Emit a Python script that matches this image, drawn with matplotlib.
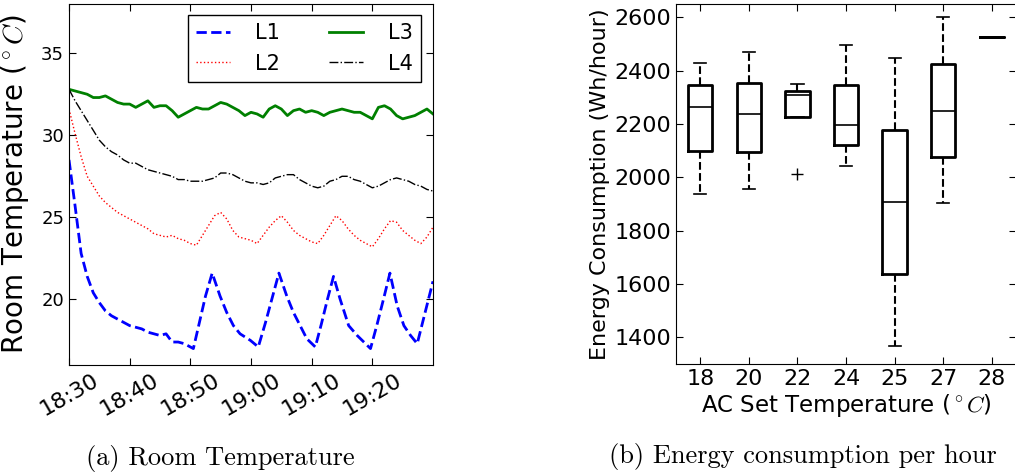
import datetime as dt
import matplotlib
matplotlib.use('Agg')
import matplotlib.pyplot as plt
import matplotlib.dates as mdates

plt.rcParams['mathtext.fontset'] = 'cm'

# ---- room temperature readings (minutes after 18:30, deg C) ----
l1_min = [0, 1, 2, 3, 4, 5, 6, 7, 8, 9, 10, 11, 12, 13, 14, 15, 16, 17, 18, 19, 20, 20.5,
          21.5, 22.5, 23.6, 24.9, 26, 27.1, 28.2, 29.9, 31.2,
          32.4, 33.5, 34.6, 35.9, 37, 38.1, 39.2, 40.6,
          41.6, 42.6, 43.6, 44.7, 46.1, 47.5, 49.7,
          50.8, 51.9, 52.9, 54.1, 55.2, 56.3, 57.4, 58.7, 60]
l1_val = [28.5, 25.7, 22.8, 21.4, 20.4, 19.8, 19.3, 19.0, 18.8, 18.6, 18.4, 18.3, 18.2, 18.0,
          17.9, 17.8, 17.9, 17.4, 17.4, 17.3, 17.1, 17.0,
          18.6, 20.2, 21.6, 20.2, 19.2, 18.4, 17.9, 17.5, 17.1,
          18.6, 20.1, 21.6, 20.2, 19.2, 18.4, 17.6, 17.1,
          18.5, 20.0, 21.4, 20.0, 18.4, 17.8, 17.0,
          18.5, 20.1, 21.6, 19.6, 18.4, 17.8, 17.3, 19.2, 21.1]

minutes = list(range(61))
l2_val = [31.6, 30.1, 28.7, 27.5, 26.9, 26.3, 25.9, 25.6, 25.3, 25.1, 24.9, 24.7, 24.5, 24.3,
          24.0, 23.9, 23.8, 23.9, 23.7, 23.6, 23.4, 23.3, 23.9, 24.5, 25.1, 25.3, 24.9, 24.2,
          23.8, 23.7, 23.6, 23.4, 23.9, 24.4, 24.8, 25.1, 24.7, 24.2, 23.9, 23.7, 23.5, 23.4,
          23.9, 24.5, 25.1, 24.8, 24.3, 23.9, 23.6, 23.4, 23.2, 23.7, 24.3, 24.8, 24.7, 24.2,
          23.9, 23.6, 23.4, 23.8, 24.4]
l3_val = [32.8, 32.7, 32.6, 32.5, 32.3, 32.3, 32.4, 32.2, 32.0, 31.9, 31.9, 31.7, 31.9, 32.1,
          31.7, 31.8, 31.8, 31.5, 31.1, 31.3, 31.5, 31.7, 31.6, 31.6, 31.8, 32.0, 31.9, 31.7,
          31.5, 31.2, 31.4, 31.3, 31.1, 31.6, 31.8, 31.6, 31.2, 31.5, 31.6, 31.4, 31.5, 31.4,
          31.2, 31.4, 31.5, 31.6, 31.5, 31.4, 31.4, 31.2, 31.0, 31.7, 31.8, 31.6, 31.2, 31.0,
          31.1, 31.2, 31.4, 31.6, 31.3]
l4_val = [32.8, 32.1, 31.5, 30.9, 30.3, 29.7, 29.3, 29.0, 28.8, 28.5, 28.3, 28.3, 28.1, 27.9,
          27.8, 27.7, 27.6, 27.5, 27.3, 27.3, 27.2, 27.2, 27.2, 27.3, 27.4, 27.7, 27.7, 27.6,
          27.4, 27.2, 27.1, 27.1, 27.0, 27.1, 27.4, 27.5, 27.6, 27.6, 27.3, 27.1, 26.9, 26.8,
          26.9, 27.2, 27.3, 27.5, 27.5, 27.3, 27.2, 27.0, 26.8, 26.9, 27.1, 27.3, 27.4, 27.3,
          27.2, 27.0, 26.9, 26.7, 26.6]

# ---- energy consumption box statistics (Wh/hour) ----
set_temps = ['18', '20', '22', '24', '25', '27', '28']
whis_lo = [1938, 1955, 2227, 2044, 1369, 1902, 2525]
q1 = [2099, 2094, 2227, 2120, 1639, 2075, 2525]
median = [2262, 2236, 2307, 2198, 1909, 2249, 2525]
q3 = [2345, 2355, 2324, 2345, 2178, 2425, 2525]
whis_hi = [2430, 2471, 2351, 2496, 2448, 2600, 2525]
fliers = [[], [], [2013], [], [], [], []]

start = dt.datetime(2016, 1, 1, 18, 30)
def to_time(ms):
    return [start + dt.timedelta(minutes=m) for m in ms]

fig = plt.figure(figsize=(10.15, 4.76), dpi=100)
ax1 = fig.add_axes([69 / 1015, 1 - 365 / 476, 364 / 1015, 361 / 476])
ax2 = fig.add_axes([676 / 1015, 1 - 364 / 476, 340 / 1015, 360 / 476])

ax1.plot(to_time(l1_min), l1_val, '--', color='blue', lw=2, label='L1')
ax1.plot(to_time(minutes), l2_val, ':', color='red', lw=1, label='L2')
ax1.plot(to_time(minutes), l3_val, '-', color='green', lw=2, label='L3')
ax1.plot(to_time(minutes), l4_val, '-.', color='black', lw=1, label='L4')

ax1.set_xlim(start, start + dt.timedelta(minutes=60))
ax1.set_ylim(16, 38)
ax1.set_yticks([20, 25, 30, 35])
ax1.xaxis.set_major_formatter(mdates.DateFormatter('%H:%M'))
ticks1 = [start + dt.timedelta(minutes=m) for m in range(0, 51, 10)]
ax1.set_xticks(ticks1)
ax1.tick_params(direction='in', top=True, right=True, length=5)
ax1.tick_params(axis='x', labelsize=16)
ax1.tick_params(axis='y', labelsize=13)
for lab in ax1.get_xticklabels():
    lab.set_rotation(30)
    lab.set_ha('center')
ax1.set_ylabel(r'Room Temperature ($^\circ C$)', fontsize=20, labelpad=7)
leg = ax1.legend(ncol=2, loc='upper right', bbox_to_anchor=(0.967, 0.97), borderaxespad=0,
                 fontsize=15, fancybox=False, edgecolor='black', framealpha=1,
                 handlelength=1.6, handletextpad=1.2, columnspacing=2.4, labelspacing=0.5)
leg.get_frame().set_linewidth(1)

stats = []
for i, name in enumerate(set_temps):
    stats.append({'label': name, 'whislo': whis_lo[i], 'q1': q1[i], 'med': median[i],
                  'q3': q3[i], 'whishi': whis_hi[i], 'fliers': fliers[i]})
ax2.bxp(stats, widths=0.5,
        boxprops=dict(color='black', lw=2),
        medianprops=dict(color='black', lw=1.2),
        whiskerprops=dict(color='black', lw=1.5, ls='--'),
        capprops=dict(color='black', lw=1.2),
        flierprops=dict(marker='+', markeredgecolor='black', markersize=9))
ax2.set_xlim(0.5, 7.5)
ax2.set_ylim(1300, 2650)
ax2.set_yticks([1400, 1600, 1800, 2000, 2200, 2400, 2600])
ax2.tick_params(direction='in', top=True, right=True, labelsize=16, length=5)
ax2.set_xlabel(r'AC Set Temperature ($^\circ C$)', fontsize=16.5, labelpad=2)
ax2.set_ylabel('Energy Consumption (Wh/hour)', fontsize=16, labelpad=3)

fig.text(220 / 1015, 1 - 458 / 476, '(a) Room Temperature', family='cmr10',
         fontsize=19, ha='center', va='center')
fig.text(803 / 1015, 1 - 456 / 476, '(b) Energy consumption per hour', family='cmr10',
         fontsize=19, ha='center', va='center')

fig.savefig('out.png', dpi=100)
